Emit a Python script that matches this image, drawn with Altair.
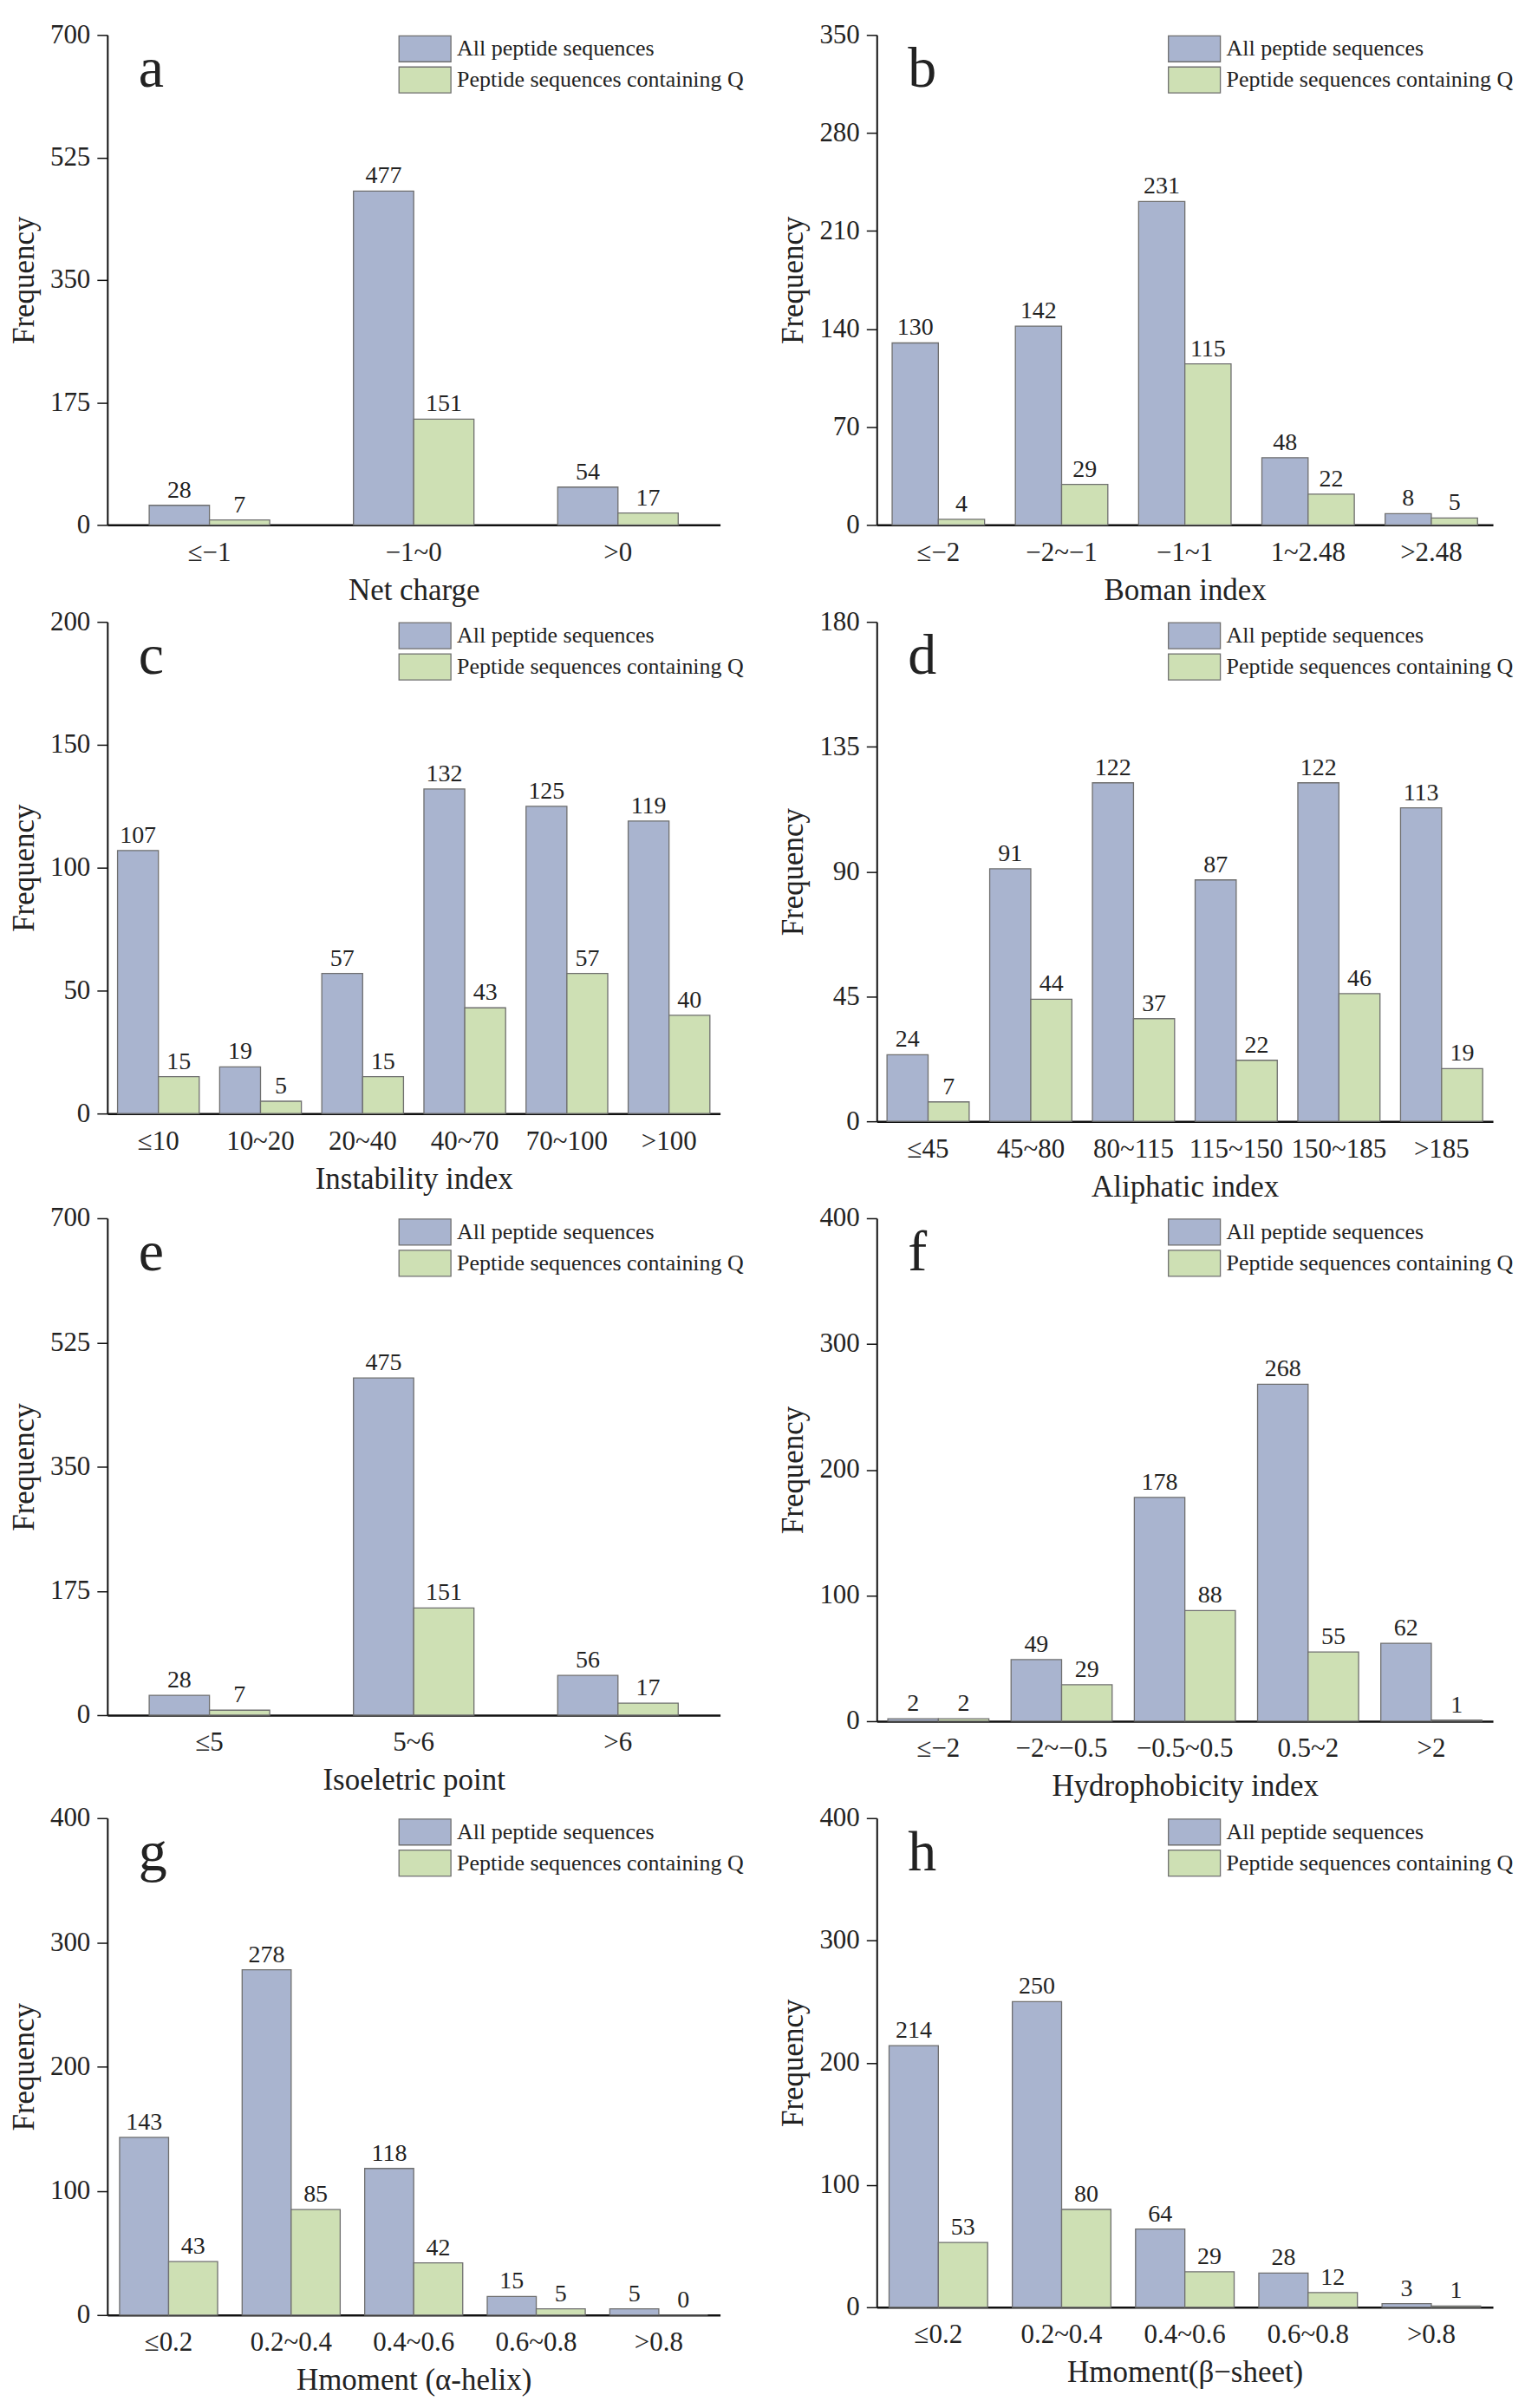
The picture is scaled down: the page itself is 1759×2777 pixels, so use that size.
import altair as alt
import pandas as pd

SERIES = ["All peptide sequences", "Peptide sequences containing Q"]
COLORS = ["#a9b4cf", "#cee0b4"]
FONT = "Liberation Serif"

# panel data
cats_a = ["≤−1", "−1~0", ">0"]
all_a = [28, 477, 54]
q_a = [7, 151, 17]

cats_b = ["≤−2", "−2~−1", "−1~1", "1~2.48", ">2.48"]
all_b = [130, 142, 231, 48, 8]
q_b = [4, 29, 115, 22, 5]

cats_c = ["≤10", "10~20", "20~40", "40~70", "70~100", ">100"]
all_c = [107, 19, 57, 132, 125, 119]
q_c = [15, 5, 15, 43, 57, 40]

cats_d = ["≤45", "45~80", "80~115", "115~150", "150~185", ">185"]
all_d = [24, 91, 122, 87, 122, 113]
q_d = [7, 44, 37, 22, 46, 19]

cats_e = ["≤5", "5~6", ">6"]
all_e = [28, 475, 56]
q_e = [7, 151, 17]

cats_f = ["≤−2", "−2~−0.5", "−0.5~0.5", "0.5~2", ">2"]
all_f = [2, 49, 178, 268, 62]
q_f = [2, 29, 88, 55, 1]

cats_g = ["≤0.2", "0.2~0.4", "0.4~0.6", "0.6~0.8", ">0.8"]
all_g = [143, 278, 118, 15, 5]
q_g = [43, 85, 42, 5, 0]

cats_h = ["≤0.2", "0.2~0.4", "0.4~0.6", "0.6~0.8", ">0.8"]
all_h = [214, 250, 64, 28, 3]
q_h = [53, 80, 29, 12, 1]


def panel(letter, cats, all_vals, q_vals, xtitle, ymax, ystep, width, height, pad):
    n = len(cats)
    df = pd.DataFrame({
        "cat": cats * 2,
        "series": [SERIES[0]] * n + [SERIES[1]] * n,
        "count": all_vals + q_vals,
    })
    base = alt.Chart(df).encode(
        x=alt.X("cat:N", sort=cats,
                scale=alt.Scale(paddingInner=pad, paddingOuter=pad / 2),
                axis=alt.Axis(title=xtitle, labelAngle=0, ticks=False, tickSize=0,
                              labelPadding=17, titlePadding=11, domainWidth=2.5)),
        xOffset=alt.XOffset("series:N", sort=SERIES,
                            scale=alt.Scale(paddingInner=0, paddingOuter=0)),
        y=alt.Y("count:Q", scale=alt.Scale(domain=[0, ymax], nice=False),
                axis=alt.Axis(title="Frequency", values=list(range(0, ymax + 1, ystep)),
                              tickSize=12, tickWidth=1.5, labelPadding=8,
                              titlePadding=12, domainWidth=2)),
    )
    # legend box: 58 x 29 rectangle drawn to the right of the symbol anchor
    bars = base.mark_bar(stroke="#6f6f6f", strokeWidth=1.3).encode(
        color=alt.Color("series:N", sort=SERIES,
                        scale=alt.Scale(domain=SERIES, range=COLORS),
                        legend=alt.Legend(orient="none", legendX=336, legendY=0, title=None,
                                          symbolType="M-1,-1H3V1H-1Z", symbolSize=900,
                                          symbolStrokeColor="#6f6f6f", symbolStrokeWidth=1.3,
                                          symbolOpacity=1, labelFont=FONT, labelFontSize=26,
                                          labelColor="#222", labelLimit=600, labelOffset=36,
                                          rowPadding=0, padding=0))
    )
    values = base.mark_text(baseline="bottom", dy=-3, font=FONT, fontSize=28,
                            color="#222").encode(text="count:Q")
    tag = alt.Chart(pd.DataFrame({"t": [letter]})).mark_text(
        align="left", baseline="alphabetic", font=FONT, fontSize=66, color="#222"
    ).encode(text="t:N", x=alt.value(36), y=alt.value(60))
    return alt.layer(bars, values, tag).properties(width=width, height=height)


panels = [
    panel("a", cats_a, all_a, q_a, "Net charge", 700, 175, 708, 566, 0.41),
    panel("b", cats_b, all_b, q_b, "Boman index", 350, 70, 712, 566, 0.25),
    panel("c", cats_c, all_c, q_c, "Instability index", 200, 50, 708, 568, 0.2),
    panel("d", cats_d, all_d, q_d, "Aliphatic index", 180, 45, 712, 577, 0.2),
    panel("e", cats_e, all_e, q_e, "Isoeletric point", 700, 175, 708, 574, 0.41),
    panel("f", cats_f, all_f, q_f, "Hydrophobicity index", 400, 100, 712, 581, 0.18),
    panel("g", cats_g, all_g, q_g, "Hmoment (α-helix)", 400, 100, 708, 574, 0.2),
    panel("h", cats_h, all_h, q_h, "Hmoment(β−sheet)", 400, 100, 712, 565, 0.2),
]

chart = alt.concat(
    *panels, columns=2, bounds="flush", spacing={"row": 112, "column": 181}
).resolve_scale(color="independent", xOffset="independent").resolve_legend(
    color="independent"
).properties(
    padding={"left": 2, "top": 14, "right": 5, "bottom": 5}
).configure(font=FONT).configure_axis(
    grid=False, domainColor="#111", tickColor="#111", labelColor="#222",
    titleColor="#222", labelFont=FONT, titleFont=FONT, labelFontSize=31,
    titleFontSize=35, titleFontWeight="normal",
).configure_view(stroke=None)

chart.save("out.html", embed_options={"renderer": "svg", "actions": False})
